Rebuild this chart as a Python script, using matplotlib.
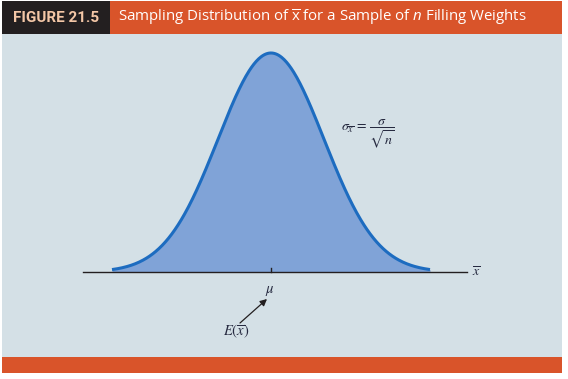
import numpy as np
import matplotlib
matplotlib.use("Agg")
import matplotlib.pyplot as plt
from matplotlib.patches import Rectangle

# chart content
title_tag = "FIGURE 21.5"
title_text = r"Sampling Distribution of $\overline{\mathrm{x}}$ for a Sample of $\mathit{n}$ Filling Weights"
mu = 0.0
sigma = 1.0
curve_range = (-3.0, 3.0)      # in standard deviations
axis_range = (-3.55, 3.70)
sigma_label = r"$\sigma_{\overline{x}}\,=\,\dfrac{\sigma}{\sqrt{n}}$"
mean_label = r"$\mu$"
expect_label = r"$E(\overline{x})$"
axis_label = r"$\overline{x}$"

# colours
dark = "#231f20"
orange = "#d9542a"
light = "#d4e0e6"
fill_blue = "#80a3d7"
line_blue = "#1d6cc0"
peach = "#f4c7a7"
ink = "#262a40"

plt.rcParams["mathtext.fontset"] = "custom"
plt.rcParams["mathtext.rm"] = "Open Sans"
plt.rcParams["mathtext.it"] = "Open Sans:italic"

W, H = 568, 379
fig = plt.figure(figsize=(W / 100, H / 100), dpi=100)
fig.patch.set_facecolor("white")


def frect(x0, y0, x1, y1, color):
    # rectangle given in pixels from top-left
    fig.add_artist(Rectangle((x0 / W, 1 - y1 / H), (x1 - x0) / W, (y1 - y0) / H,
                             transform=fig.transFigure, facecolor=color,
                             edgecolor="none", zorder=0))


frect(2, 34, 562, 357, light)
frect(2, 1, 110, 34, dark)
frect(110, 1, 562, 34, orange)
frect(2, 357, 562, 373, orange)

fig.text(13 / W, 1 - 18 / H, title_tag, color=peach, fontsize=11,
         fontweight="bold", family="Roboto", va="center", ha="left")
fig.text(118 / W, 1 - 17 / H, title_text, color="white", fontsize=10.8,
         family="Open Sans", va="center", ha="left", math_fontfamily="custom")

# main axes in pixel-calibrated data units
x_px0, sd_px = 271, 53
y_px0 = 272
pdf_px = 219 / (1 / np.sqrt(2 * np.pi))

ax = fig.add_axes([0, 0, 1, 1])
ax.set_xlim((0 - x_px0) / sd_px, (W - x_px0) / sd_px)
ax.set_ylim(-(H - y_px0) / pdf_px, y_px0 / pdf_px)
ax.axis("off")
ax.patch.set_alpha(0)


def px(x, y):
    return (x - x_px0) / sd_px, (y_px0 - y) / pdf_px


z = np.linspace(curve_range[0], curve_range[1], 400)
pdf = np.exp(-0.5 * ((z - mu) / sigma) ** 2) / (sigma * np.sqrt(2 * np.pi))
ax.fill_between(z, 0, pdf, color=fill_blue, lw=0, zorder=2)
ax.plot(z, pdf, color=line_blue, lw=2.2, zorder=3, solid_capstyle="butt")
ax.plot(axis_range, [0, 0], color="#231f20", lw=1.0, zorder=4)
ax.plot([mu, mu], [0, 4 / pdf_px], color="#231f20", lw=1.0, zorder=4)

ax.text(*px(476, 272), axis_label, math_fontfamily="stix", fontsize=10,
        ha="center", va="center", color=ink)
ax.text(*px(368, 134), sigma_label, math_fontfamily="stix", fontsize=10,
        ha="center", va="center", color=ink)
ax.text(*px(270, 290), mean_label, math_fontfamily="stix", fontsize=10.5,
        ha="center", va="center", color=ink)
ax.text(*px(236, 331), expect_label, math_fontfamily="stix", fontsize=10.5,
        ha="center", va="center", color=ink)
ax.annotate("", xy=px(267, 299), xytext=px(240, 323),
            arrowprops=dict(arrowstyle="-|>", color="#231f20", lw=0.9,
                            shrinkA=0, shrinkB=0, mutation_scale=10))

fig.savefig("out.png", dpi=100)
